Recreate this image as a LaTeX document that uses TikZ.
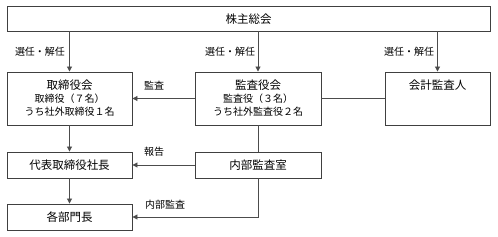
\documentclass[tikz,border=0pt]{standalone}
\usepackage{fontspec}
\setmainfont{Noto Sans CJK JP}
\usetikzlibrary{arrows.meta}
\begin{document}
\begin{tikzpicture}[x=1pt,y=-1pt,
  box/.style={draw=black!75,line width=0.9pt,inner sep=0pt},
  conn/.style={draw=black!70,line width=0.9pt},
  arr/.style={conn,-{Triangle[length=5pt,width=5pt]}},
  lbl/.style={font=\fontsize{10}{12}\selectfont,inner sep=0pt},
  ttl/.style={font=\fontsize{11.5}{13}\selectfont,inner sep=0pt},
  sub/.style={font=\fontsize{10}{12}\selectfont,inner sep=0pt}]
\useasboundingbox (0,0) rectangle (498,237);
% boxes
\node[box,minimum width=483pt,minimum height=25pt] (gm) at (248.5,18.5) {};
\node[ttl] at (248.5,19) {株主総会};
\node[box,minimum width=125pt,minimum height=53pt] (bd) at (69.5,98.5) {};
\node[ttl] at (69.5,85) {取締役会};
\node[sub] at (69.5,98.5) {取締役（７名）};
\node[sub] at (69.5,112) {うち社外取締役１名};
\node[box,minimum width=126pt,minimum height=53pt] (ac) at (258,98.5) {};
\node[ttl] at (258,85) {監査役会};
\node[sub] at (258,98.5) {監査役（３名）};
\node[sub] at (258,112) {うち社外監査役２名};
\node[box,minimum width=105pt,minimum height=53pt] (ea) at (437.5,98.5) {};
\node[ttl] at (437.5,85) {会計監査人};
\node[box,minimum width=125pt,minimum height=26pt] (pr) at (69.5,165) {};
\node[ttl] at (69.5,165) {代表取締役社長};
\node[box,minimum width=126pt,minimum height=26pt] (ia) at (258,165) {};
\node[ttl] at (258,165) {内部監査室};
\node[box,minimum width=125pt,minimum height=26pt] (dh) at (69.5,217) {};
\node[ttl] at (69.5,217) {各部門長};
% connectors
\draw[arr] (gm.south -| bd) -- (bd.north);
\draw[arr] (gm.south -| ac) -- (ac.north);
\draw[arr] (gm.south -| ea) -- (ea.north);
\node[lbl] at (40,52) {選任・解任};
\node[lbl] at (230,52) {選任・解任};
\node[lbl] at (409,52) {選任・解任};
\draw[arr] (ac.west) -- (bd.east);
\node[lbl] at (154,86) {監査};
\draw[conn] (ac.east) -- (ea.west);
\draw[arr] (bd.south) -- (pr.north);
\draw[conn] (ac.south) -- (ia.north);
\draw[arr] (ia.west) -- (pr.east);
\node[lbl] at (154,152) {報告};
\draw[arr] (pr.south) -- (dh.north);
\coordinate (c1) at (ia.south |- dh.east);
\draw[arr] (ia.south) -- (c1) -- (dh.east);
\node[lbl] at (165,205) {内部監査};
\end{tikzpicture}
\end{document}
